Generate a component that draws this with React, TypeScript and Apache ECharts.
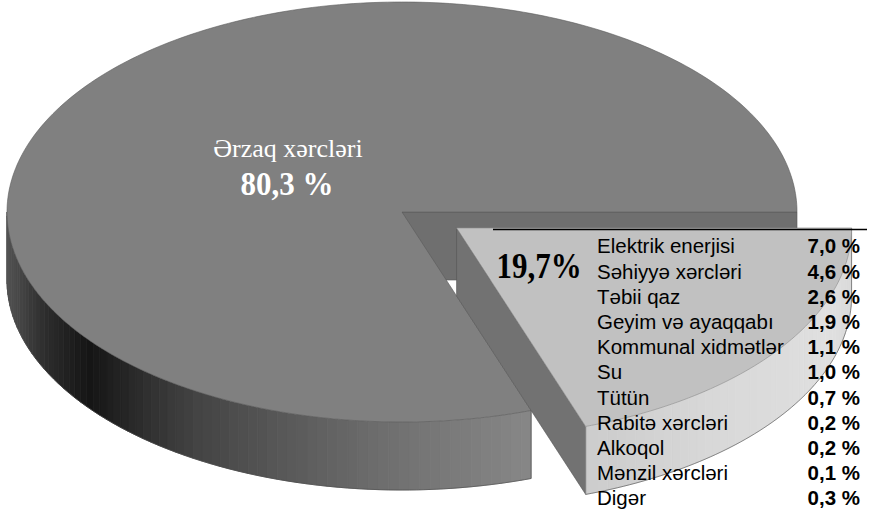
import React, { useEffect, useRef } from "react";
import * as echarts from "echarts";

// ---- data ----
const mainLabels = ["Ərzaq xərcləri", ""];
const mainValues = [80.3, 19.7];
const otherShareLabel = "19,7%";
const subLabels = [
  "Elektrik enerjisi",
  "Səhiyyə xərcləri",
  "Təbii qaz",
  "Geyim və ayaqqabı",
  "Kommunal xidmətlər",
  "Su",
  "Tütün",
  "Rabitə xərcləri",
  "Alkoqol",
  "Mənzil xərcləri",
  "Digər",
];
const subValues = [7.0, 4.6, 2.6, 1.9, 1.1, 1.0, 0.7, 0.2, 0.2, 0.1, 0.3];

// ---- geometry / style ----
const CX = 402;
const CY = 212;
const RX = 395;
const RY = 210;
const H = 68;
const SANS = "'Liberation Sans', Arial, Helvetica, sans-serif";
const SERIF = "'Liberation Serif', 'Times New Roman', serif";

const bigWallKeys: [number, number][] = [
  [70, 0x88], [90, 0x72], [105, 0x5c], [113, 0x50], [121, 0x44],
  [130, 0x30], [142, 0x15], [155, 0x2e], [165, 0x46], [180, 0x58],
];
const smallWallKeys: [number, number][] = [
  [0, 0xd6], [20, 0xe0], [50, 0xd8], [71, 0xcc],
];

function interp(keys: [number, number][], t: number) {
  if (t <= keys[0][0]) return keys[0][1];
  for (let i = 1; i < keys.length; i++) {
    if (t <= keys[i][0]) {
      const [t0, v0] = keys[i - 1];
      const [t1, v1] = keys[i];
      return v0 + ((v1 - v0) * (t - t0)) / (t1 - t0);
    }
  }
  return keys[keys.length - 1][1];
}
const gray = (g: number) => {
  const v = Math.round(Math.max(0, Math.min(255, g)));
  return `rgb(${v},${v},${v})`;
};
const fmt = (v: number) => v.toFixed(1).replace(".", ",") + " %";

export default function App() {
  const ref = useRef<HTMLDivElement>(null);
  useEffect(() => {
    document.body.style.margin = "0";
    if (!ref.current) return;
    const chart = echarts.init(ref.current, null, { renderer: "svg" });
    const total = mainValues.reduce((a, b) => a + b, 0);
    const startDeg = (360 * mainValues[1]) / total;
    const starts: number[] = [];
    let acc = startDeg;
    mainValues.forEach((v) => {
      starts.push(acc);
      acc += (360 * v) / total;
    });

    const renderItem = (params: any, api: any) => {
      const i = params.dataIndex;
      const v = api.value(0);
      const span = (360 * v) / total;
      const a0 = starts[i] % 360;
      const a1 = a0 + span;
      const exploded = i === 1;
      const mid = ((a0 + a1) / 2) * (Math.PI / 180);
      const ox = exploded ? 67 * Math.cos(mid) : 0;
      const oy = exploded ? 27.5 * Math.sin(mid) : 0;
      const cx = CX + ox;
      const cy = CY + oy;
      const P = (deg: number, dy = 0) => {
        const r = (deg * Math.PI) / 180;
        return [cx + RX * Math.cos(r), cy + RY * Math.sin(r) + dy];
      };
      const children: any[] = [];
      const faceFill = exploded ? "#727272" : "#6f6f6f";
      const ca1 = Math.cos((a1 * Math.PI) / 180);
      const ca0 = Math.cos((a0 * Math.PI) / 180);
      if (ca1 > 0) {
        children.push({
          type: "polygon",
          shape: { points: [[cx, cy], P(a1), P(a1, H), [cx, cy + H]] },
          style: { fill: faceFill, stroke: "#555", lineWidth: 0.6 },
        });
      }
      if (-ca0 > 0) {
        children.push({
          type: "polygon",
          shape: { points: [[cx, cy], P(a0), P(a0, H), [cx, cy + H]] },
          style: { fill: faceFill, stroke: "#555", lineWidth: 0.6 },
        });
      }
      const ranges: [number, number][] = [];
      for (const base of [0, 360]) {
        const s = Math.max(a0, base);
        const e = Math.min(a1, base + 180);
        if (e > s) ranges.push([s - base, e - base]);
      }
      const keys = exploded ? smallWallKeys : bigWallKeys;
      ranges.forEach(([s, e]) => {
        const step = 1.5;
        for (let t = s; t < e; t += step) {
          const t2 = Math.min(e, t + step);
          const c = gray(interp(keys, (t + t2) / 2));
          children.push({
            type: "polygon",
            shape: { points: [P(t), P(t2), P(t2, H), P(t, H)] },
            style: { fill: c, stroke: c, lineWidth: 0.8 },
          });
        }
        const outline: number[][] = [P(s), P(s, H)];
        for (let t = s; t <= e; t += 1) outline.push(P(t, H));
        outline.push(P(e, H), P(e));
        children.push({
          type: "polyline",
          shape: { points: outline },
          style: { fill: null, stroke: "#4a4a4a", lineWidth: 0.6 },
        });
      });
      const top: number[][] = [[cx, cy]];
      for (let t = a0; t < a1; t += 1) top.push(P(t));
      top.push(P(a1));
      children.push({
        type: "polygon",
        shape: { points: top },
        style: {
          fill: exploded ? "#c1c1c1" : "#808080",
          stroke: exploded ? "#8a8a8a" : "#5a5a5a",
          lineWidth: 0.6,
        },
      });
      return { type: "group", children };
    };

    const graphic: any[] = [
      {
        type: "text",
        z: 100,
        x: 288,
        y: 148,
        style: {
          text: mainLabels[0],
          fill: "#ffffff",
          font: `normal 26px ${SERIF}`,
          align: "center",
          verticalAlign: "middle",
        },
      },
      {
        type: "text",
        z: 100,
        x: 287,
        y: 184,
        scaleY: 1.08,
        style: {
          text: fmt(mainValues[0]),
          fill: "#ffffff",
          font: `bold 31px ${SERIF}`,
          align: "center",
          verticalAlign: "middle",
        },
      },
      {
        type: "text",
        z: 100,
        x: 539,
        y: 266,
        scaleY: 1.15,
        style: {
          text: otherShareLabel,
          fill: "#000000",
          font: `bold 31px ${SERIF}`,
          align: "center",
          verticalAlign: "middle",
        },
      },
      {
        type: "line",
        z: 100,
        shape: { x1: 493, y1: 229.5, x2: 867, y2: 229.5 },
        style: { stroke: "#000", lineWidth: 1.5 },
      },
    ];
    subLabels.forEach((lab, k) => {
      const baseline = 253 + 25.2 * k;
      graphic.push({
        type: "text",
        z: 100,
        x: 597,
        y: baseline - 7.1,
        style: {
          text: lab,
          fill: "#000",
          font: `normal 20.5px ${SANS}`,
          align: "left",
          verticalAlign: "middle",
        },
      });
      graphic.push({
        type: "text",
        z: 100,
        x: 860,
        y: baseline - 7.1,
        style: {
          text: fmt(subValues[k]),
          fill: "#000",
          font: `bold 20.5px ${SANS}`,
          align: "right",
          verticalAlign: "middle",
        },
      });
    });

    chart.setOption({
      animation: false,
      backgroundColor: "#ffffff",
      series: [
        {
          type: "custom",
          coordinateSystem: "none",
          z: 1,
          renderItem,
          data: mainValues.map((v, i) => ({ name: mainLabels[i], value: [v] })),
          silent: true,
        },
      ],
      graphic,
    });
    return () => chart.dispose();
  }, []);
  return <div ref={ref} style={{ width: 885, height: 515 }} />;
}
